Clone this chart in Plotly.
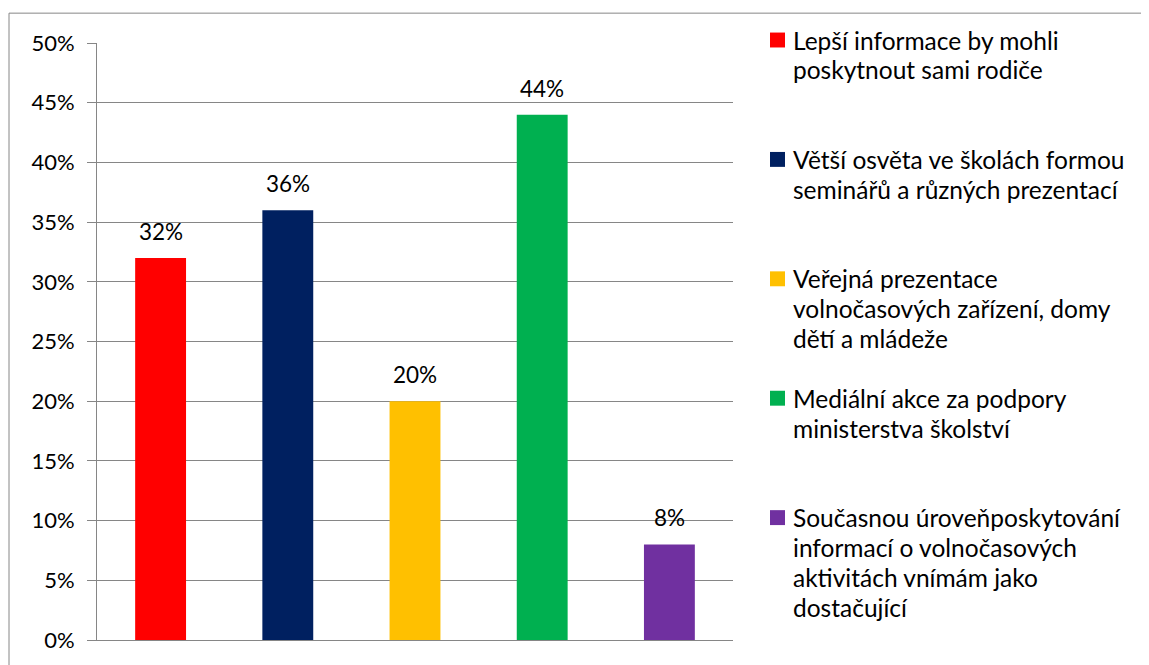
import plotly.graph_objects as go

categories = [
    "Lepší informace by mohli poskytnout sami rodiče",
    "Větší osvěta ve školách formou seminářů a různých prezentací",
    "Veřejná prezentace volnočasových zařízení, domy dětí a mládeže",
    "Mediální akce za podpory ministerstva školství",
    "Současnou úroveňposkytování informací o volnočasových aktivitách vnímám jako dostačující",
]
legend_lines = [
    ["Lepší informace by mohli", "poskytnout sami rodiče"],
    ["Větší osvěta ve školách formou", "seminářů a různých prezentací"],
    ["Veřejná prezentace", "volnočasových zařízení, domy", "dětí a mládeže"],
    ["Mediální akce za podpory", "ministerstva školství"],
    ["Současnou úroveňposkytování", "informací o volnočasových", "aktivitách vnímám jako", "dostačující"],
]
values = [0.32, 0.36, 0.20, 0.44, 0.08]
colors = ["#FF0000", "#002060", "#FFC000", "#00B050", "#7030A0"]

OFF = 8  # page body margin
W, H = 1149 - OFF, 665 - OFF
L, R, T, B = 97 - OFF, 733 - OFF, 43 - OFF, 643 - OFF
FONT = "Lato"
GRID = "#868686"


def px_x(p):
    return (p - OFF - L) / (R - L)


def px_y(p):
    return (B - (p - OFF)) / (B - T)


fig = go.Figure()
fig.add_trace(go.Bar(
    x=categories, y=values, marker=dict(color=colors, line=dict(width=0)),
    showlegend=False, hoverinfo="x+y",
))

annotations = []
for c, v in zip(categories, values):
    annotations.append(dict(
        x=c, y=v, xref="x", yref="y", text=f"{round(v * 100)}%",
        showarrow=False, yanchor="bottom", yshift=11,
        font=dict(family=FONT, size=22.5, color="#000000"),
    ))

shapes = []
# outer chart border
shapes.append(dict(type="rect", xref="paper", yref="paper",
                   x0=px_x(9), x1=px_x(1200), y0=px_y(700), y1=px_y(13),
                   line=dict(color=GRID, width=1), fillcolor="rgba(0,0,0,0)", layer="below"))

pitch = 30
for i, (lines, col) in enumerate(zip(legend_lines, colors)):
    y0 = 40 + 120 * i
    shapes.append(dict(type="rect", xref="paper", yref="paper",
                       x0=px_x(770), x1=px_x(785), y0=px_y(y0 - 7.5), y1=px_y(y0 + 7.5),
                       fillcolor=col, line=dict(width=0)))
    for j, ln in enumerate(lines):
        annotations.append(dict(
            x=px_x(791), y=px_y(y0 + j * pitch), xref="paper", yref="paper",
            text=ln, showarrow=False, xanchor="left", yanchor="middle",
            font=dict(family=FONT, size=24.5, color="#000000"),
        ))

fig.update_layout(
    width=W, height=H,
    margin=dict(l=L, r=W - R, t=T, b=H - B, pad=0),
    paper_bgcolor="white", plot_bgcolor="white",
    bargap=0.6,
    showlegend=False,
    font=dict(family=FONT, color="#000000"),
    annotations=annotations,
    shapes=shapes,
)
fig.update_yaxes(
    range=[0, 0.5], dtick=0.05, tick0=0, tickformat=".0%",
    showgrid=True, gridcolor=GRID, gridwidth=1,
    showline=True, linecolor=GRID, linewidth=1,
    ticks="outside", ticklen=9, tickcolor=GRID, ticklabelstandoff=8,
    tickfont=dict(family=FONT, size=22, color="#000000"),
    zeroline=False,
)
fig.update_xaxes(
    showticklabels=False, showgrid=False, showline=True, linecolor=GRID, linewidth=1,
    ticks="",
)

fig.write_html("out.html")
